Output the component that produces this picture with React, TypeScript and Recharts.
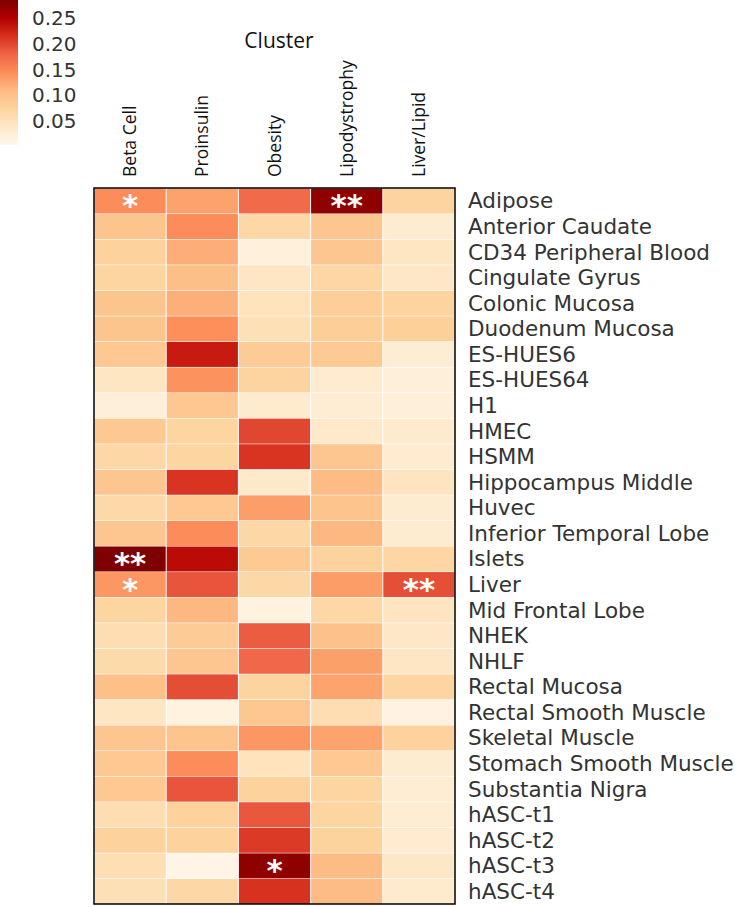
import React from 'react';
import { BarChart, Bar, XAxis, YAxis, Cell, LabelList, ReferenceArea } from 'recharts';

// ---- data ----
const tissues = [
  'Adipose', 'Anterior Caudate', 'CD34 Peripheral Blood', 'Cingulate Gyrus', 'Colonic Mucosa',
  'Duodenum Mucosa', 'ES-HUES6', 'ES-HUES64', 'H1', 'HMEC', 'HSMM', 'Hippocampus Middle',
  'Huvec', 'Inferior Temporal Lobe', 'Islets', 'Liver', 'Mid Frontal Lobe', 'NHEK', 'NHLF',
  'Rectal Mucosa', 'Rectal Smooth Muscle', 'Skeletal Muscle', 'Stomach Smooth Muscle',
  'Substantia Nigra', 'hASC-t1', 'hASC-t2', 'hASC-t3', 'hASC-t4',
];

const clusters = ['Beta Cell', 'Proinsulin', 'Obesity', 'Lipodystrophy', 'Liver/Lipid'];

const betaCell = [0.145, 0.095, 0.076, 0.072, 0.095, 0.095, 0.090, 0.043, 0.022, 0.090, 0.068, 0.093, 0.065, 0.093, 0.285, 0.137, 0.072, 0.058, 0.064, 0.102, 0.043, 0.093, 0.090, 0.090, 0.058, 0.077, 0.055, 0.053];
const proinsulin = [0.128, 0.145, 0.120, 0.103, 0.118, 0.143, 0.230, 0.140, 0.092, 0.072, 0.072, 0.212, 0.090, 0.145, 0.242, 0.190, 0.112, 0.086, 0.093, 0.195, 0.016, 0.096, 0.145, 0.190, 0.077, 0.077, 0.010, 0.066];
const obesity = [0.175, 0.068, 0.020, 0.042, 0.048, 0.053, 0.086, 0.073, 0.034, 0.200, 0.212, 0.037, 0.131, 0.066, 0.088, 0.066, 0.016, 0.185, 0.178, 0.073, 0.092, 0.137, 0.048, 0.077, 0.188, 0.208, 0.274, 0.214];
const lipodystrophy = [0.274, 0.093, 0.093, 0.070, 0.082, 0.082, 0.088, 0.031, 0.028, 0.037, 0.093, 0.108, 0.097, 0.112, 0.077, 0.132, 0.068, 0.100, 0.130, 0.127, 0.058, 0.127, 0.090, 0.072, 0.072, 0.075, 0.108, 0.108];
const liverLipid = [0.073, 0.030, 0.043, 0.040, 0.074, 0.080, 0.026, 0.022, 0.022, 0.034, 0.031, 0.045, 0.030, 0.030, 0.070, 0.194, 0.045, 0.040, 0.042, 0.072, 0.015, 0.077, 0.030, 0.028, 0.028, 0.031, 0.040, 0.034];

const seriesValues = [betaCell, proinsulin, obesity, lipodystrophy, liverLipid];

const marks: [string, string, string][] = [
  ['Adipose', 'Beta Cell', '*'],
  ['Adipose', 'Lipodystrophy', '**'],
  ['Islets', 'Beta Cell', '**'],
  ['Liver', 'Beta Cell', '*'],
  ['Liver', 'Liver/Lipid', '**'],
  ['hASC-t3', 'Obesity', '*'],
];

const colorbarTicks = [0.05, 0.1, 0.15, 0.2, 0.25];
const VMIN = 0.0034;
const VMAX = 0.285;

// OrRd colormap
const orrd = ['#fff7ec', '#fee8c8', '#fdd49e', '#fdbb84', '#fc8d59', '#ef6548', '#d7301f', '#b30000', '#7f0000'];

const hexToRgb = (h: string) => [parseInt(h.slice(1, 3), 16), parseInt(h.slice(3, 5), 16), parseInt(h.slice(5, 7), 16)];
const colorFor = (v: number) => {
  let t = (v - VMIN) / (VMAX - VMIN);
  t = Math.max(0, Math.min(1, t));
  const pos = t * (orrd.length - 1);
  const i = Math.min(orrd.length - 2, Math.floor(pos));
  const f = pos - i;
  const a = hexToRgb(orrd[i]);
  const b = hexToRgb(orrd[i + 1]);
  const c = a.map((x, k) => Math.round(x + (b[k] - x) * f));
  return `rgb(${c[0]},${c[1]},${c[2]})`;
};

const rows = tissues.map((t) => {
  const r: Record<string, any> = { tissue: t };
  clusters.forEach((_, ci) => { r[`c${ci}`] = 1; });
  return r;
});

const markAt = (tissueIdx: number, ci: number) => {
  const m = marks.find((mk) => mk[0] === tissues[tissueIdx] && mk[1] === clusters[ci]);
  return m ? m[2] : null;
};

const ColTick = (props: any) => {
  const { x, y, payload } = props;
  const idx = Math.round(Number(payload.value) - 0.5);
  const label = clusters[idx];
  if (!label) return null;
  return (
    <text
      transform={`translate(${Number(x) + 6},${Number(y)}) rotate(-90)`}
      textAnchor="start"
      fontFamily="Open Sans"
      fontSize={17.5}
      fill="#111"
    >
      {label}
    </text>
  );
};

const RowTick = (props: any) => {
  const { x, y, payload } = props;
  return (
    <text x={Number(x)} y={Number(y)} dy="0.355em" textAnchor="start" fontFamily="DejaVu Sans" fontSize={21.5} fill="#333">
      {payload.value}
    </text>
  );
};

const CbTick = (props: any) => {
  const { x, y, payload } = props;
  return (
    <text x={Number(x)} y={Number(y)} dy="0.355em" textAnchor="start" fontFamily="DejaVu Sans" fontSize={20} fill="#333">
      {Number(payload.value).toFixed(2)}
    </text>
  );
};

const ClusterTitle = (props: any) => {
  const vb = props.viewBox || {};
  const cx = Number(vb.x) + Number(vb.width) / 2 + 4.5;
  return (
    <text x={cx} y={48} textAnchor="middle" fontFamily="Open Sans" fontSize={21} fill="#111">
      Cluster
    </text>
  );
};

const HeatRect = (props: any) => {
  const { x, y, width, height, fill } = props;
  return (
    <rect
      x={Number(x) + 0.5}
      y={Number(y) + 0.5}
      width={Math.max(0, Number(width) - 1)}
      height={Math.max(0, Number(height) - 1)}
      fill={fill}
    />
  );
};

export default function App() {
  return (
    <div style={{ position: 'absolute', left: 0, top: 0, width: 735, height: 907, background: '#fff' }}>
      <div style={{ position: 'absolute', left: 0, top: 0 }}>
        <BarChart
          width={735}
          height={907}
          data={rows}
          layout="vertical"
          margin={{ top: 8, right: 0, bottom: 3, left: 94 }}
          barCategoryGap={0}
          barGap={0}
        >
          <XAxis
            xAxisId="top"
            type="number"
            orientation="top"
            domain={[0, 5]}
            ticks={[0.5, 1.5, 2.5, 3.5, 4.5]}
            interval={0}
            height={180}
            tickSize={0}
            tickMargin={11}
            tickLine={false}
            axisLine={false}
            tick={<ColTick />}
            label={{ content: ClusterTitle } as any}
          />
          <YAxis
            yAxisId="right"
            type="category"
            dataKey="tissue"
            orientation="right"
            width={280}
            interval={0}
            tickSize={0}
            tickMargin={13}
            tickLine={false}
            axisLine={false}
            tick={<RowTick />}
          />
          {clusters.map((c, ci) => (
            <Bar
              key={c}
              xAxisId="top"
              yAxisId="right"
              dataKey={`c${ci}`}
              stackId="heat"
              isAnimationActive={false}
              shape={<HeatRect />}
            >
              {rows.map((_, ri) => (
                <Cell key={ri} fill={colorFor(seriesValues[ci][ri])} />
              ))}
              <LabelList
                dataKey={`c${ci}`}
                content={(p: any) => {
                  const m = markAt(Number(p.index), ci);
                  if (!m) return null;
                  const x = Number(p.x) + Number(p.width) / 2;
                  const y = Number(p.y) + Number(p.height) / 2 + 15;
                  return (
                    <text x={x} y={y} textAnchor="middle" fill="#fff" fontFamily="DejaVu Sans" fontWeight="bold" fontSize={31}>
                      {m}
                    </text>
                  );
                }}
              />
            </Bar>
          ))}
          <ReferenceArea
            xAxisId="top"
            yAxisId="right"
            x1={0}
            x2={5}
            fill="none"
            fillOpacity={0}
            stroke="#000"
            strokeWidth={1.5}
            strokeOpacity={1}
            ifOverflow="visible"
            {...({ zIndex: 2000 } as any)}
          />
        </BarChart>
      </div>
      <div style={{ position: 'absolute', left: 0, top: 0 }}>
        <BarChart
          width={80}
          height={145}
          data={[{ k: 'cb', range: [VMIN, VMAX] }]}
          margin={{ top: 0, right: 0, bottom: 0, left: 0 }}
          barCategoryGap={0}
        >
          <defs>
            <linearGradient id="cbGrad" x1="0" y1="1" x2="0" y2="0">
              {orrd.map((col, i) => (
                <stop key={i} offset={i / (orrd.length - 1)} stopColor={col} />
              ))}
            </linearGradient>
          </defs>
          <XAxis dataKey="k" hide />
          <YAxis
            type="number"
            domain={[VMIN, VMAX]}
            ticks={colorbarTicks}
            interval={0}
            orientation="right"
            width={62}
            tickSize={0}
            tickMargin={14}
            axisLine={false}
            tickLine={false}
            allowDataOverflow
            tick={<CbTick />}
          />
          <Bar dataKey="range" fill="url(#cbGrad)" isAnimationActive={false} />
        </BarChart>
      </div>
    </div>
  );
}
